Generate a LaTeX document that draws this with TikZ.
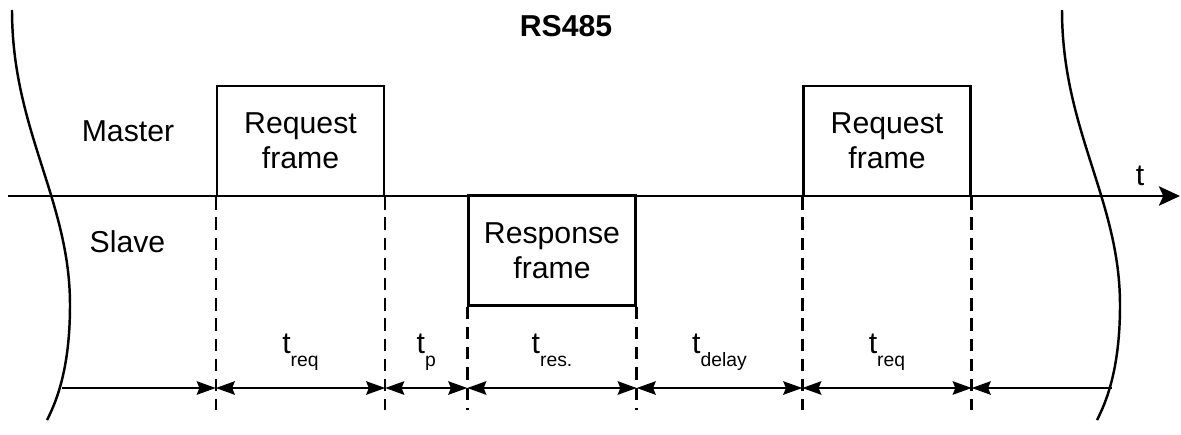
\documentclass[tikz,border=0pt]{standalone}
\usepackage{fontspec}
\setmainfont{Liberation Sans}
\usetikzlibrary{arrows.meta,positioning}

\newcommand{\tsub}[1]{t\raisebox{-7.4pt}{\fontsize{11}{11}\selectfont #1}}

\begin{document}
\begin{tikzpicture}[
  x=0.02cm, y=-0.02cm,
  line width=1.4pt,
  txt/.style={font=\fontsize{17.2}{20}\selectfont},
  frame/.style={draw,txt,align=center,inner sep=0pt,minimum width=3.34cm,minimum height=2.2cm},
  tick/.style={dash pattern=on 7pt off 4.5pt},
  tip/.tip={Stealth[length=10.8pt,width=7.6pt,inset=1.5pt]},
  dim/.style={tip-tip},
  dur/.style={txt,anchor=base,yshift=19.9pt},
  axis/.style={-{Stealth[length=12pt,width=11pt,inset=2.5pt]}}
]
\useasboundingbox (0,0) rectangle (1181,434);

% frames on the bus
\node[frame] (req1) at (300.5,141) {Request\\frame};
\node[frame] (res)  at (552,250.5) {Response\\frame};
\node[frame] (req2) at (887,141)   {Request\\frame};

\node[txt,font=\bfseries\fontsize{17.2}{20}\selectfont,anchor=base] (title) at (566,36) {RS485};
\node[txt] (master) at (128,131.5) {Master};
\node[txt] (slave)  at (127.5,242) {Slave};
\node[txt] (tname)  at (1140,175.5) {t};

% time axis
\coordinate (ax0) at (8,196);
\coordinate (ax1) at (1180,196);
\draw[axis] (ax0) -- (ax1);

% cut lines
\foreach \s in {0,1050}
  \draw[shift={(\s,0)}] (12,10) .. controls (12,130) and (70,200) .. (70,305)
    .. controls (70,360) and (60,395) .. (47,420);

% marks
\coordinate (lowend) at (0,410);
\coordinate (dimrow) at (0,388);
\foreach \p in {req1.south west,req1.south east,res.south west,res.south east,req2.south west,req2.south east}
  \draw[tick] (\p) -- (\p |- lowend);

% durations
\coordinate (wl) at (62,388);
\coordinate (wr) at (1112,388);
\draw[-tip] (wl) -- (req1.south west |- dimrow);
\draw[dim] (req1.south west |- dimrow) -- node[dur] (treq1) {\tsub{req}} (req1.south east |- dimrow);
\draw[dim] (req1.south east |- dimrow) -- node[dur] (tp) {\tsub{p}} (res.south west |- dimrow);
\draw[dim] (res.south west |- dimrow) -- node[dur] (tres) {\tsub{res.}} (res.south east |- dimrow);
\draw[dim] (res.south east |- dimrow) -- node[dur] (tdelay) {\tsub{delay}} (req2.south west |- dimrow);
\draw[dim] (req2.south west |- dimrow) -- node[dur] (treq2) {\tsub{req}} (req2.south east |- dimrow);
\draw[tip-] (req2.south east |- dimrow) -- (wr);
\end{tikzpicture}
\end{document}
